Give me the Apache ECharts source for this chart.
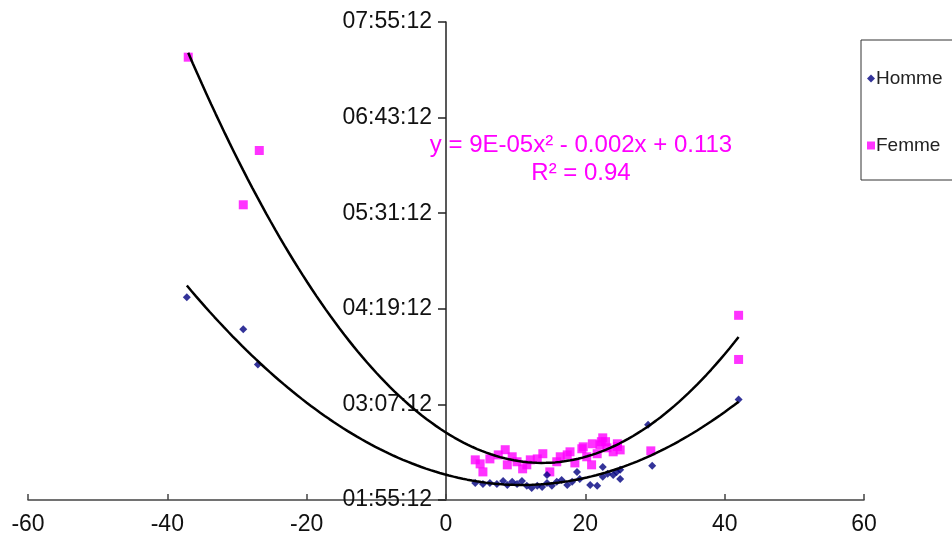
<!DOCTYPE html>
<html>
<head>
<meta charset="utf-8">
<script src="https://cdn.jsdelivr.net/npm/echarts@6/dist/echarts.min.js"></script>
<style>html,body{margin:0;padding:0;background:#fff}#c{width:952px;height:556px}</style>
</head>
<body>
<div id="c"></div>
<script>
// Data: x = value, y = time as fraction of a day
var hommeX = [-37.2,-29.1,-27.0,4.2,5.3,6.3,7.3,8.2,8.8,9.5,10.2,10.9,11.6,12.3,13.1,13.8,14.5,14.5,15.2,15.9,16.6,17.4,18.1,18.8,19.2,20.7,21.7,22.5,22.5,23.2,24.0,24.5,25.0,25.0,29.0,29.6,42.0];
var hommeY = [0.1861,0.1693,0.1509,0.0889,0.0884,0.0889,0.0884,0.0900,0.0879,0.0895,0.0884,0.0900,0.0874,0.0863,0.0874,0.0868,0.0889,0.0931,0.0874,0.0895,0.0905,0.0879,0.0895,0.0947,0.0910,0.0879,0.0874,0.0921,0.0973,0.0937,0.0931,0.0947,0.0910,0.0958,0.1194,0.0979,0.1325];
var femmeX = [-37.0,-29.1,-26.8,4.2,4.9,5.3,6.3,7.5,8.5,8.8,9.5,10.2,11.0,11.6,12.1,13.1,13.9,14.9,15.9,16.4,17.4,17.8,18.5,19.5,19.7,20.2,20.9,21.0,21.7,22.1,22.3,22.5,22.9,23.1,24.0,24.6,24.6,25.0,29.4,42.0,42.0];
var femmeY = [0.3116,0.2344,0.2628,0.1010,0.0989,0.0947,0.1015,0.1036,0.1063,0.0984,0.1026,0.1000,0.0963,0.0984,0.1010,0.1015,0.1042,0.0947,0.1000,0.1026,0.1036,0.1052,0.0994,0.1068,0.1078,0.1026,0.0984,0.1094,0.1042,0.1089,0.1105,0.1125,0.1105,0.1073,0.1052,0.1080,0.1094,0.1062,0.1057,0.1766,0.1535];
var seriesNames = ['Homme', 'Femme'];
var xTicks = [-60, -40, -20, 0, 20, 40, 60];
var yTickMin = 0.08, yTickMax = 0.33, yTickStep = 0.05;
var equationText = ['y = 9E-05x\u00B2 - 0.002x + 0.113', 'R\u00B2 = 0.94'];

function pairs(xs, ys){ return xs.map(function(x,i){ return [x, ys[i]]; }); }

// least-squares quadratic fit computed from the data
function polyFit2(xs, ys){
  var S = [0,0,0,0,0], T = [0,0,0];
  for (var i=0;i<xs.length;i++){
    var p=1;
    for (var k=0;k<5;k++){ S[k]+=p; if(k<3) T[k]+=p*ys[i]; p*=xs[i]; }
  }
  var A = [[S[0],S[1],S[2],T[0]],[S[1],S[2],S[3],T[1]],[S[2],S[3],S[4],T[2]]];
  for (var c=0;c<3;c++){
    var piv=c; for (var r=c+1;r<3;r++) if (Math.abs(A[r][c])>Math.abs(A[piv][c])) piv=r;
    var tmp=A[c];A[c]=A[piv];A[piv]=tmp;
    for (var r2=0;r2<3;r2++){ if(r2===c) continue; var f=A[r2][c]/A[c][c]; for (var k2=c;k2<4;k2++) A[r2][k2]-=f*A[c][k2]; }
  }
  return [A[0][3]/A[0][0], A[1][3]/A[1][1], A[2][3]/A[2][2]];
}
function trend(xs, ys){
  var co = polyFit2(xs, ys);
  var lo = Math.min.apply(null, xs), hi = Math.max.apply(null, xs), out = [];
  for (var i=0;i<=120;i++){ var x = lo + (hi-lo)*i/120; out.push([x, co[0]+co[1]*x+co[2]*x*x]); }
  return out;
}
function fmtTime(v){
  var s = Math.round(v*86400);
  var h = Math.floor(s/3600), m = Math.floor((s%3600)/60), sec = s%60;
  function p(n){ return (n<10?'0':'')+n; }
  return p(h)+':'+p(m)+':'+p(sec);
}

var GL = 28, GR = 88;
var plotW = 952 - GL - GR;
var zeroOffset = -plotW * (0 - xTicks[0]) / (xTicks[xTicks.length-1] - xTicks[0]);
var FONT = 'Liberation Sans, Arial, sans-serif';

var chart = echarts.init(document.getElementById('c'));
chart.setOption({
  backgroundColor: '#fff',
  animation: false,
  textStyle: { fontFamily: FONT },
  grid: { left: GL, right: GR, top: 22, bottom: 56, containLabel: false, outerBoundsMode: 'none' },
  legend: {
    orient: 'vertical', left: 861, top: 40,
    data: [
      { name: seriesNames[0], icon: 'diamond' },
      { name: seriesNames[1], icon: 'rect' }
    ],
    itemWidth: 8, itemHeight: 8, itemGap: 48,
    padding: [29, 40, 25, 6],
    borderColor: '#333', borderWidth: 1,
    textStyle: { fontSize: 19, color: '#222', padding: [0,0,0,-4] }
  },
  xAxis: {
    type: 'value', min: xTicks[0], max: xTicks[xTicks.length-1], interval: 20,
    splitLine: { show: false },
    axisLine: { onZero: false, lineStyle: { color: '#444', width: 1.5 } },
    axisTick: { inside: true, length: 6, lineStyle: { color: '#444', width: 1.5 } },
    axisLabel: { fontSize: 23, color: '#111', margin: 13 }
  },
  yAxis: {
    type: 'value', min: yTickMin, max: yTickMax, interval: yTickStep,
    position: 'left', offset: zeroOffset,
    splitLine: { show: false },
    axisLine: { onZero: false, lineStyle: { color: '#222', width: 1.5 } },
    axisTick: { length: 8, lineStyle: { color: '#222', width: 1.5 } },
    axisLabel: { fontSize: 23, color: '#111', margin: 14, formatter: fmtTime }
  },
  graphic: [
    { type: 'text', x: 581, y: 145, style: { text: equationText[0], fill: '#ff00ff', fontSize: 24, fontFamily: FONT, textAlign: 'center', textVerticalAlign: 'middle' } },
    { type: 'text', x: 581, y: 173, style: { text: equationText[1], fill: '#ff00ff', fontSize: 24, fontFamily: FONT, textAlign: 'center', textVerticalAlign: 'middle' } }
  ],
  series: [
    { name: seriesNames[0], type: 'scatter', symbol: 'diamond', symbolSize: 8, itemStyle: { color: '#000080' }, data: pairs(hommeX, hommeY), z: 3 },
    { name: seriesNames[1], type: 'scatter', symbol: 'rect', symbolSize: 9, itemStyle: { color: '#ff00ff' }, data: pairs(femmeX, femmeY), z: 2 },
    { name: 'trendH', type: 'line', data: trend(hommeX, hommeY), showSymbol: false, smooth: false, lineStyle: { color: '#000', width: 2.5 }, z: 4, silent: true },
    { name: 'trendF', type: 'line', data: trend(femmeX, femmeY), showSymbol: false, smooth: false, lineStyle: { color: '#000', width: 2.5 }, z: 4, silent: true }
  ]
});
</script>
</body>
</html>
